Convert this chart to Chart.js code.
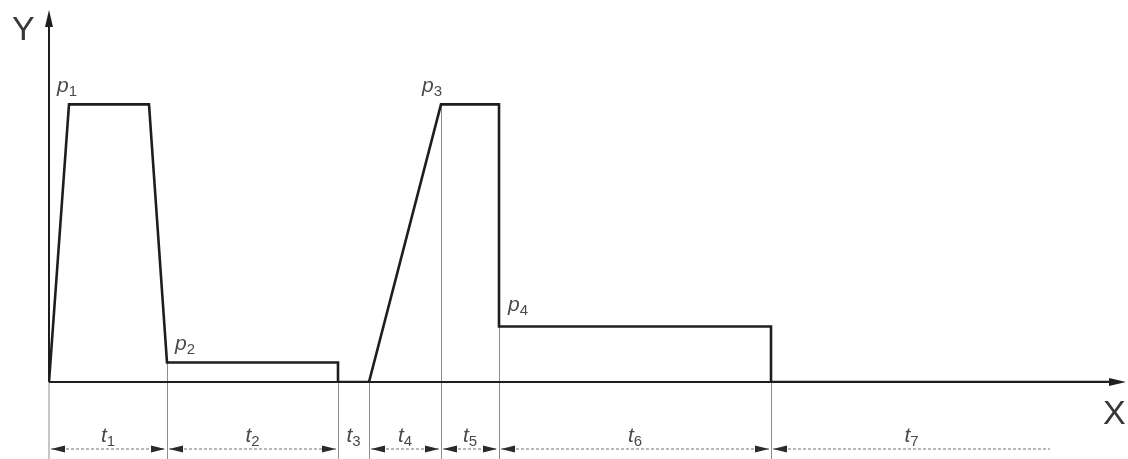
<!DOCTYPE html>
<html>
<head>
<meta charset="utf-8">
<script src="https://cdn.jsdelivr.net/npm/chart.js@4/dist/chart.umd.min.js"></script>
<style>
  html, body { margin: 0; padding: 0; background: #fff; }
  #wrap { width: 1128px; height: 459px; }
</style>
</head>
<body>
<div id="wrap"><canvas id="profileChart" width="1128" height="459"></canvas></div>
<script>
// profile levels
const levelP1 = 100;
const levelP2 = 7;
const levelP3 = 100;
const levelP4 = 20;

// profile breakpoints (x = time, y = level)
const profileX = [0, 20, 100, 118, 289, 289, 320, 392, 450, 450, 722, 722, 1065];
const profileY = [0, levelP1, levelP1, levelP2, levelP2, 0, 0, levelP3, levelP3, levelP4, levelP4, 0, 0];

// interval boundaries t1..t7
const timeMarks = [0, 118, 289, 320, 392, 450, 722, 1003];
const intervalNames = ['1', '2', '3', '4', '5', '6', '7'];

// point labels: [name, index of profile point]
const pointLabels = [['1', 1], ['2', 3], ['3', 7], ['4', 9]];

const xMax = 1077;
const yMax = 134;

const ink = '#1e1e1e';
const thin = '#8c8c8c';
const labelGrey = '#4a4a4a';

function arrowHead(ctx, tipX, tipY, dirX, dirY, len, half) {
    const bx = tipX - dirX * len, by = tipY - dirY * len;
    ctx.beginPath();
    ctx.moveTo(tipX, tipY);
    ctx.lineTo(bx - dirY * half, by + dirX * half);
    ctx.lineTo(bx + dirY * half, by - dirX * half);
    ctx.closePath();
    ctx.fill();
}

function subLabel(ctx, main, sub, x, y, align) {
    ctx.font = 'italic 21px "Liberation Sans", Arial, sans-serif';
    const w1 = ctx.measureText(main).width;
    ctx.font = '15px "Liberation Sans", Arial, sans-serif';
    const w2 = ctx.measureText(sub).width;
    let left = x;
    if (align === 'center') left = x - (w1 + w2) / 2;
    ctx.textAlign = 'left';
    ctx.textBaseline = 'alphabetic';
    ctx.font = 'italic 21px "Liberation Sans", Arial, sans-serif';
    ctx.fillText(main, left, y);
    ctx.font = '15px "Liberation Sans", Arial, sans-serif';
    ctx.fillText(sub, left + w1, y + 4);
}

const drawingPlugin = {
    id: 'drawing',
    beforeDatasetsDraw(chart) {
        const ctx = chart.ctx;
        const xs = chart.scales.x, ys = chart.scales.y;
        const x0 = xs.getPixelForValue(0), y0 = ys.getPixelForValue(0);
        ctx.save();

        // thin extension lines at boundaries
        ctx.strokeStyle = thin;
        ctx.lineWidth = 1;
        timeMarks.slice(1, -1).forEach(t => {
            const ysAt = profileY.filter((v, i) => profileX[i] === t);
            const top = ysAt.length ? Math.min(...ysAt) : 0;
            const px = Math.round(xs.getPixelForValue(t)) + 0.5;
            ctx.beginPath();
            ctx.moveTo(px, ys.getPixelForValue(top));
            ctx.lineTo(px, chart.height);
            ctx.stroke();
        });
        ctx.beginPath();
        ctx.moveTo(x0, y0);
        ctx.lineTo(x0, chart.height);
        ctx.stroke();

        // axes
        ctx.strokeStyle = ink;
        ctx.fillStyle = ink;
        ctx.lineWidth = 2;
        const yTop = ys.getPixelForValue(yMax);
        const xEnd = xs.getPixelForValue(xMax);
        ctx.beginPath();
        ctx.moveTo(x0, y0);
        ctx.lineTo(x0, yTop + 10);
        ctx.moveTo(x0, y0);
        ctx.lineTo(xEnd - 10, y0);
        ctx.stroke();
        arrowHead(ctx, x0, yTop, 0, -1, 17, 4);
        arrowHead(ctx, xEnd, y0, 1, 0, 17, 4);

        // axis names
        ctx.fillStyle = '#383838';
        ctx.font = '34px "Liberation Sans", Arial, sans-serif';
        ctx.textAlign = 'left';
        ctx.textBaseline = 'alphabetic';
        ctx.fillText('Y', 12, yTop + 30);
        ctx.fillText('X', xEnd - 23, y0 + 42);

        // dimension row (narrow intervals get only the label)
        const dimY = y0 + 67;
        for (let i = 0; i < intervalNames.length; i++) {
            const a = xs.getPixelForValue(timeMarks[i]);
            const b = xs.getPixelForValue(timeMarks[i + 1]);
            const last = i === intervalNames.length - 1;
            if (b - a > 40) {
                ctx.strokeStyle = '#b8b8b8';
                ctx.lineWidth = 2;
                ctx.setLineDash([3, 2]);
                ctx.beginPath();
                ctx.moveTo(a + 2, dimY);
                ctx.lineTo(b - 2, dimY);
                ctx.stroke();
                ctx.setLineDash([]);
                ctx.fillStyle = '#2a2a2a';
                arrowHead(ctx, a + 2, dimY, -1, 0, 14, 3.5);
                if (!last) arrowHead(ctx, b - 2, dimY, 1, 0, 14, 3.5);
            }
            ctx.fillStyle = labelGrey;
            subLabel(ctx, 't', intervalNames[i], (a + b) / 2, dimY - 7, 'center');
        }

        // level labels
        const offsets = [[-12, -12], [8, -13], [-19, -12], [9, -15]];
        ctx.fillStyle = labelGrey;
        pointLabels.forEach(([name, idx], k) => {
            const px = xs.getPixelForValue(profileX[idx]);
            const py = ys.getPixelForValue(profileY[idx]);
            subLabel(ctx, 'p', name, px + offsets[k][0], py + offsets[k][1], 'left');
        });

        ctx.restore();
    }
};

new Chart(document.getElementById('profileChart'), {
    type: 'scatter',
    data: {
        datasets: [{
            label: 'profile',
            data: profileX.map((x, i) => ({ x: x, y: profileY[i] })),
            showLine: true,
            borderColor: ink,
            borderWidth: 2.6,
            pointRadius: 0,
            tension: 0,
            borderJoinStyle: 'miter'
        }]
    },
    options: {
        responsive: false,
        animation: false,
        events: [],
        layout: { padding: { left: 49, right: 2, top: 10, bottom: 77 } },
        scales: {
            x: { type: 'linear', min: 0, max: xMax, display: false },
            y: { type: 'linear', min: 0, max: yMax, display: false }
        },
        plugins: {
            legend: { display: false },
            tooltip: { enabled: false }
        }
    },
    plugins: [drawingPlugin]
});
</script>
</body>
</html>
